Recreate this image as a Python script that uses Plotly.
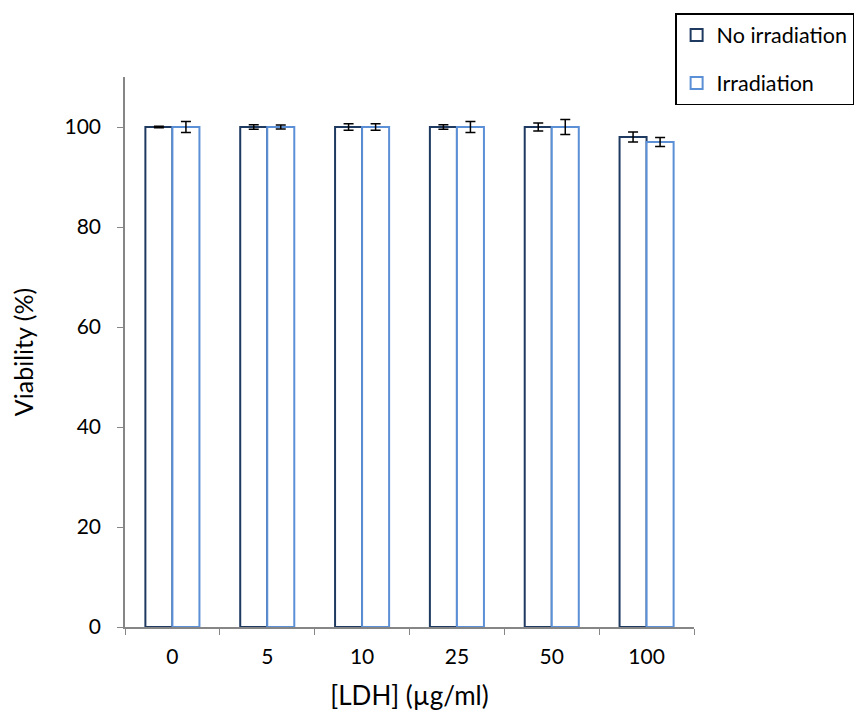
import plotly.graph_objects as go

categories = ["0", "5", "10", "25", "50", "100"]
no_irr = [100, 100, 100, 100, 100, 98]
no_irr_err = [0.15, 0.45, 0.65, 0.45, 0.8, 1.0]
irr = [100, 100, 100, 100, 100, 97]
irr_err = [1.1, 0.4, 0.65, 1.1, 1.5, 0.9]

font = "Lato, Open Sans, sans-serif"

fig = go.Figure()
fig.add_trace(go.Bar(
    x=categories, y=no_irr, name="No irradiation",
    marker=dict(color="white", line=dict(color="#1f3a60", width=2)),
    error_y=dict(type="data", array=no_irr_err, color="black", thickness=1.5, width=5),
    legendgroup="a",
))
fig.add_trace(go.Bar(
    x=categories, y=irr, name="Irradiation",
    marker=dict(color="white", line=dict(color="#5b8fd6", width=2)),
    error_y=dict(type="data", array=irr_err, color="black", thickness=1.5, width=5),
    legendgroup="b",
))

fig.update_layout(
    width=859, height=716,
    margin=dict(l=117, r=173, t=69, b=97, autoexpand=False),
    paper_bgcolor="white", plot_bgcolor="white",
    barmode="group", bargap=0.43, bargroupgap=0,
    font=dict(family=font, size=21, color="black"),
    legend=dict(
        xref="container", yref="container",
        x=0.985, y=0.993, xanchor="right", yanchor="top",
        bordercolor="black", borderwidth=1.5,
        font=dict(size=21.5), tracegroupgap=17,
    ),
    xaxis=dict(
        showline=True, linecolor="#868686", linewidth=1.5,
        ticks="outside", tickson="boundaries", ticklen=6, tickcolor="#868686",
        ticklabelstandoff=10,
        title=dict(text="[LDH] (µg/ml)", font=dict(size=26), standoff=20),
        tickfont=dict(size=21),
    ),
    yaxis=dict(
        range=[0, 110], tickvals=[0, 20, 40, 60, 80, 100],
        showline=True, linecolor="#868686", linewidth=1.5,
        ticks="outside", ticklen=6, tickcolor="#868686",
        ticklabelstandoff=12,
        showgrid=False, zeroline=False,
        title=dict(text="Viability (%)", font=dict(size=25), standoff=24),
        tickfont=dict(size=21),
    ),
)

fig.write_html("out.html")
